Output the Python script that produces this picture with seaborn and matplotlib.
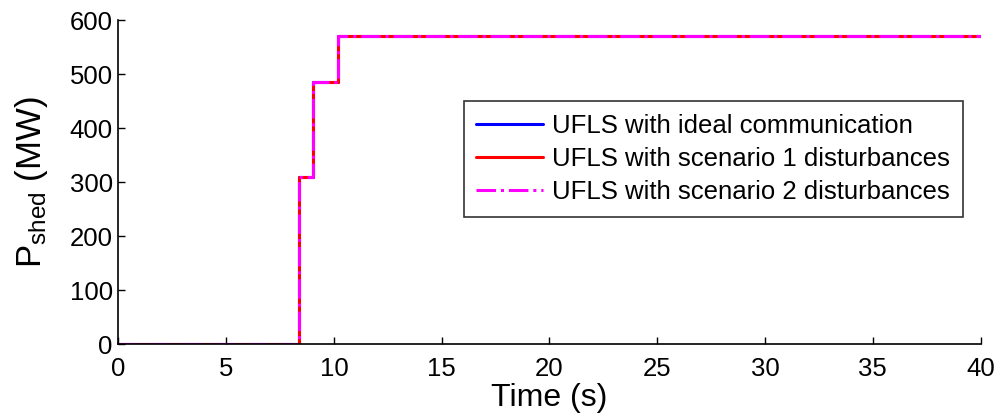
import matplotlib
matplotlib.use("Agg")
import matplotlib.pyplot as plt
import seaborn as sns
import pandas as pd

# step times (s) and shed power (MW)
time_s = [0, 8.4, 9.05, 10.2, 40]
p_ideal = [0, 310, 485, 570, 570]
p_scen1 = [0, 310, 485, 570, 570]
p_scen2 = [0, 310, 485, 570, 570]

labels = ["UFLS with ideal communication",
          "UFLS with scenario 1 disturbances",
          "UFLS with scenario 2 disturbances"]

sns.set_style("ticks")
plt.rcParams['font.family'] = ['Liberation Sans', 'DejaVu Sans']
plt.rcParams['mathtext.default'] = 'regular'

fig = plt.figure(figsize=(9.98, 4.17), dpi=100)
ax = fig.add_axes([0.1186, 0.175, 0.864, 0.777])

series = [(p_ideal, "#0000ff", "-"), (p_scen1, "#ff0000", "-"), (p_scen2, "#ff00ff", "-.")]
for (vals, col, ls), lab in zip(series, labels):
    df = pd.DataFrame({"t": time_s, "p": vals})
    sns.lineplot(data=df, x="t", y="p", ax=ax, color=col, linestyle=ls,
                 linewidth=2.2, drawstyle="steps-post", label=lab)

ax.set_xlim(0, 40)
ax.set_ylim(0, 600)
ax.set_xticks(range(0, 41, 5))
ax.set_yticks(range(0, 601, 100))
ax.tick_params(direction="in", length=5, labelsize=18.5, width=1,
               colors="black")
ax.tick_params(axis="x", pad=9)
ax.tick_params(axis="y", pad=4)
sns.despine(ax=ax)
for s in ["left", "bottom"]:
    ax.spines[s].set_linewidth(1.2)
    ax.spines[s].set_color("black")

ax.set_xlabel("Time (s)", fontsize=23, labelpad=2, color="black")
ax.set_ylabel(r"P$_{shed}$ (MW)", fontsize=25, labelpad=14, color="black")

leg = ax.legend(loc="upper right", bbox_to_anchor=(963 / 998, 1 - 101 / 417),
                bbox_transform=fig.transFigure, borderaxespad=0, fontsize=18.5,
                frameon=True, fancybox=False, edgecolor="black",
                handlelength=2.6, labelspacing=0.35, handletextpad=0.35,
                borderpad=0.5)
leg.get_frame().set_linewidth(1.2)
for t in leg.get_texts():
    t.set_color("black")

plt.savefig("out.png", dpi=100)
plt.close()
